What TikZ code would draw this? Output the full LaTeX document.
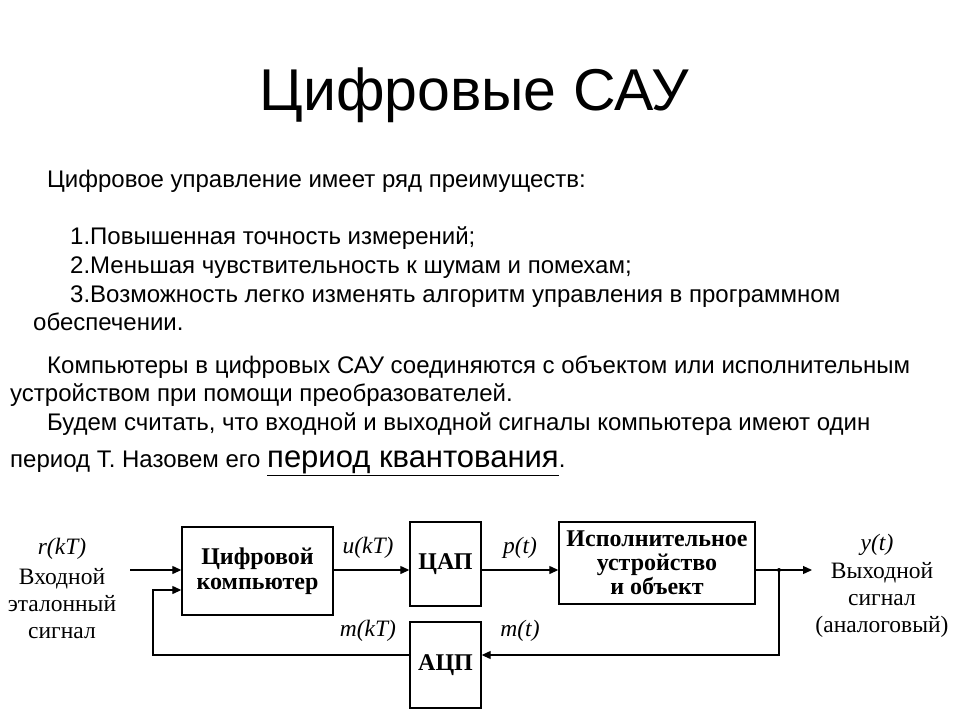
\documentclass[tikz,border=0pt]{standalone}
\usepackage{fontspec}
\setmainfont{Liberation Sans}
\newfontfamily\serifd{Liberation Serif}
\usetikzlibrary{arrows.meta}
\begin{document}
\begin{tikzpicture}[x=1pt,y=-1pt,
  txt/.style={anchor=base west,inner sep=0pt,font=\fontsize{24}{26}\selectfont},
  blk/.style={draw,line width=1.4pt,inner sep=0pt,font=\serifd\bfseries\fontsize{24}{25}\selectfont,align=center},
  lab/.style={inner sep=0pt,font=\serifd\fontsize{23.5}{27}\selectfont,align=center},
  sig/.style={line width=1.2pt,-{Triangle[length=9pt,width=8pt]}},
  ln/.style={line width=1.2pt}]
\useasboundingbox (0,0) rectangle (960,720);
\node[inner sep=0pt,font=\fontsize{59}{60}\selectfont] (title) at (474,95) {Цифровые САУ};
\node[txt] (t1) at (47,187) {Цифровое управление имеет ряд преимуществ:};
\node[txt] (t2) at (70,244) {1.Повышенная точность измерений;};
\node[txt] (t3) at (70,273) {2.Меньшая чувствительность к шумам и помехам;};
\node[txt] (t4) at (70,302) {3.Возможность легко изменять алгоритм управления в программном};
\node[txt] (t5) at (33,330) {обеспечении.};
\node[txt] (t6) at (47,373) {Компьютеры в цифровых САУ соединяются с объектом или исполнительным};
\node[txt] (t7) at (10,401) {устройством при помощи преобразователей.};
\node[txt] (t8) at (47,430) {Будем считать, что входной и выходной сигналы компьютера имеют один};
\node[txt] (t9) at (10,467) {период Т. Назовем его \fontsize{31}{32}\selectfont\underline{период квантования}\fontsize{24}{26}\selectfont.};
% blocks
\node[blk,minimum width=151pt,minimum height=88pt] (cpu) at (257.5,571) {Цифровой\\компьютер};
\node[blk,minimum width=71pt,minimum height=84pt] (dac) at (445.5,564) {ЦАП};
\node[blk,minimum width=196pt,minimum height=82pt,font=\serifd\bfseries\fontsize{24}{24}\selectfont] (plant) at (657,563) {Исполнительное\\устройство\\и объект};
\node[blk,minimum width=71pt,minimum height=86pt] (adc) at (445.5,665) {АЦП};
% labels
\node[lab] (rk) at (62,549) {\itshape r(kT)};
\node[lab] (inl) at (62,604) {Входной\\эталонный\\сигнал};
\node[lab] (uk) at (368,548) {\itshape u(kT)};
\node[lab] (pt) at (520,548) {\itshape p(t)};
\node[lab] (mk) at (368,631) {\itshape m(kT)};
\node[lab] (mt) at (520,631) {\itshape m(t)};
\node[lab] (yt) at (877,545) {\itshape y(t)};
\node[lab] (outl) at (882,600) {Выходной\\сигнал\\(аналоговый)};
% connectors
\coordinate (in) at (130,570);
\coordinate (j) at (779,570);
\coordinate (out) at (812,570);
\coordinate (fb) at (153,655);
\coordinate (fbt) at (153,590);
\draw[sig] (in) -- (cpu.west|-in);
\draw[sig] (cpu.east|-in) -- (dac.west|-in);
\draw[sig] (dac.east|-in) -- (plant.west|-in);
\draw[sig] (plant.east|-in) -- (out);
\fill (j) circle (2pt);
\draw[sig] (j) |- (adc.east|-fb);
\draw[sig] (adc.west|-fb) -- (fb) -- (fbt) -- (cpu.west|-fbt);
\end{tikzpicture}
\end{document}
